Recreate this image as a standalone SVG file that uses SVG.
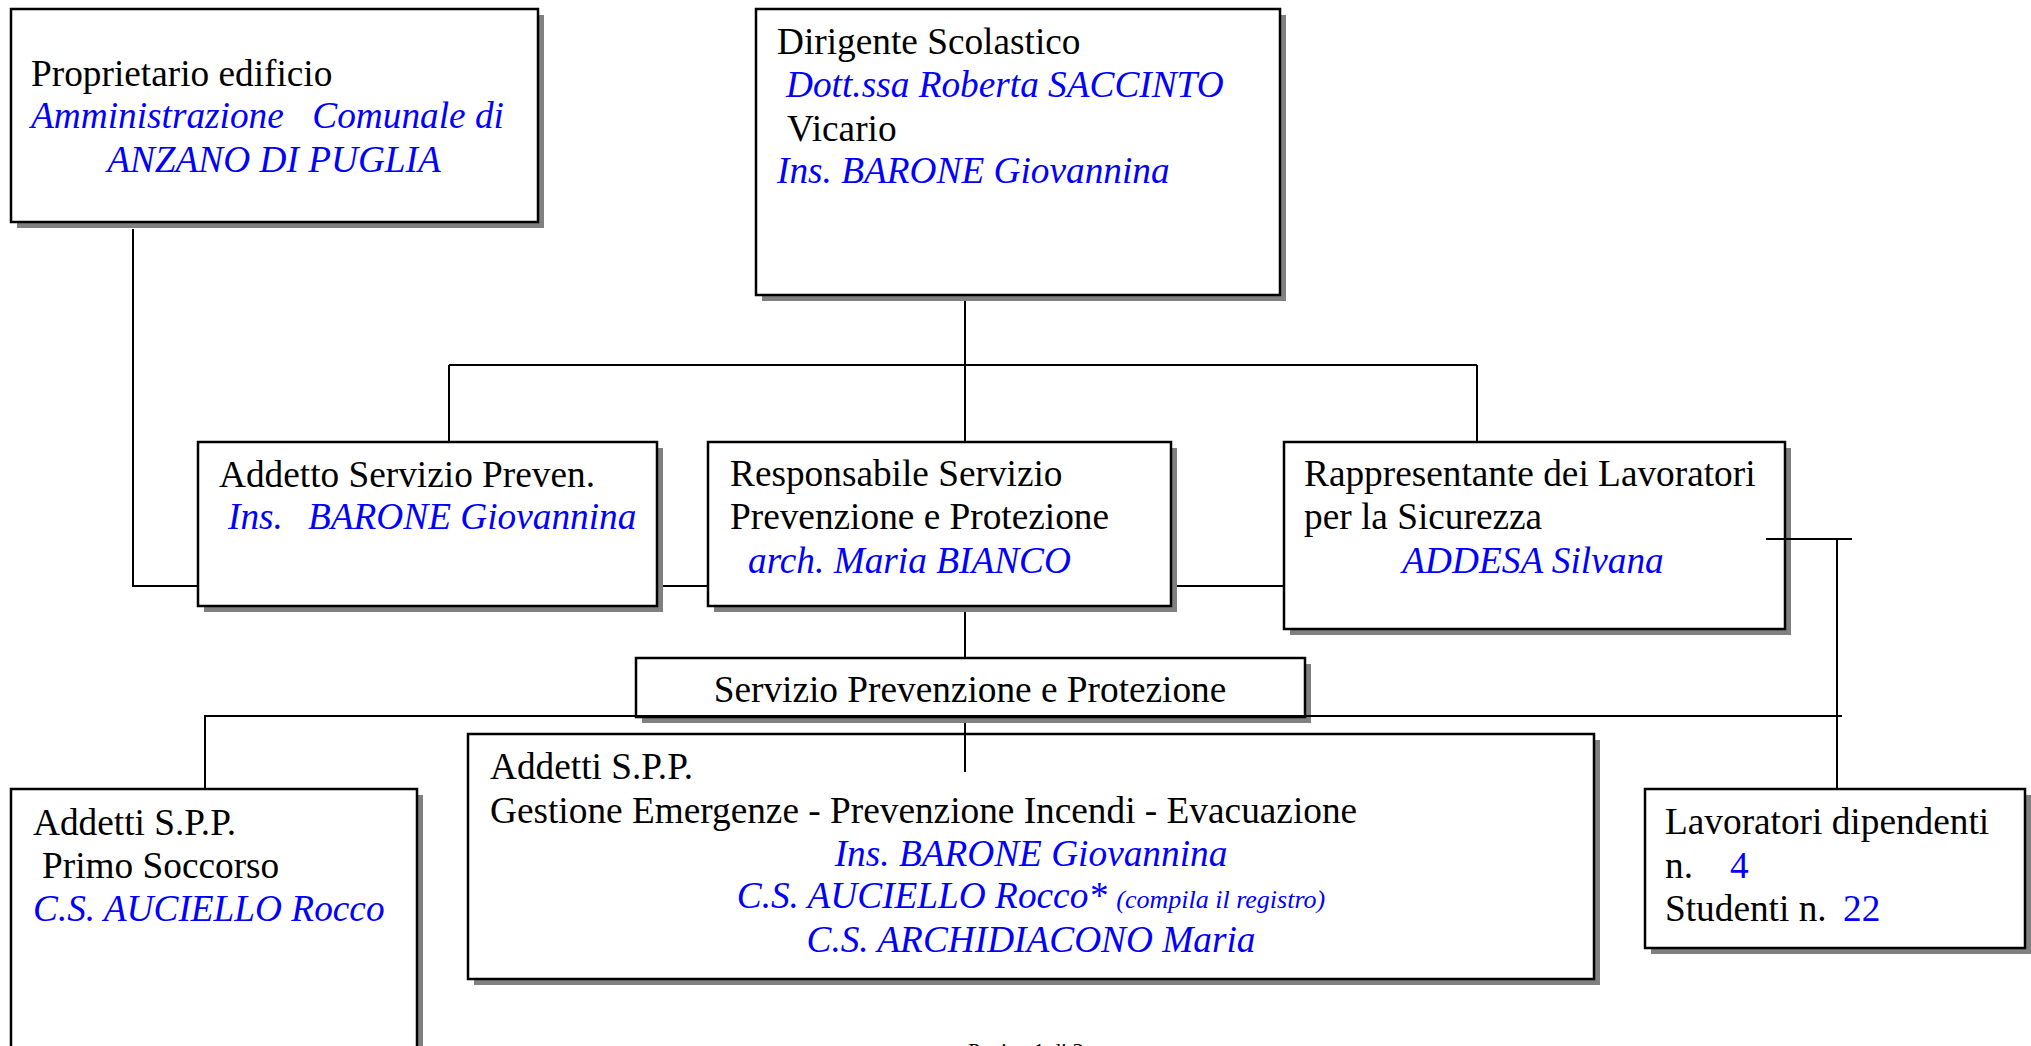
<svg xmlns="http://www.w3.org/2000/svg" width="2031" height="1046" viewBox="0 0 2031 1046">
<style>
.sh{fill:#808080}
.bx{fill:#ffffff;stroke:#000000;stroke-width:2.5}
text{font-family:"Liberation Serif","Times New Roman",serif;font-size:37.3px;fill:#000000}
.b{fill:#0000ff;font-style:italic}
.bn{fill:#0000ff}
.sm{font-size:26px}
.c{text-anchor:middle}
.e{text-anchor:end}
.ln{fill:none;stroke:#000000;stroke-width:2}
</style>
<rect width="2031" height="1046" fill="#ffffff"/>
<g id="proprietario">
<rect class="sh" x="17" y="15" width="527" height="213"/>
<rect class="bx" x="11" y="9" width="527" height="213"/>
<text x="31" y="86">Proprietario edificio</text>
<text class="b" x="31" y="128">Amministrazione</text>
<text class="b e" x="504" y="128">Comunale di</text>
<text class="b c" x="274" y="172">ANZANO DI PUGLIA</text>
</g>
<g id="dirigente">
<rect class="sh" x="762" y="15" width="524" height="286"/>
<rect class="bx" x="756" y="9" width="524" height="286"/>
<text x="777" y="54">Dirigente Scolastico</text>
<text class="b" x="786" y="97">Dott.ssa Roberta SACCINTO</text>
<text x="787" y="141">Vicario</text>
<text class="b" x="777" y="183">Ins. BARONE Giovannina</text>
</g>
<g id="addetto">
<rect class="sh" x="204" y="448" width="459" height="164"/>
<rect class="bx" x="198" y="442" width="459" height="164"/>
<text x="219" y="487">Addetto Servizio Preven.</text>
<text class="b" x="228" y="529">Ins.</text>
<text class="b" x="308" y="529">BARONE Giovannina</text>
</g>
<g id="responsabile">
<rect class="sh" x="714" y="448" width="463" height="164"/>
<rect class="bx" x="708" y="442" width="463" height="164"/>
<text x="730" y="486">Responsabile Servizio</text>
<text x="730" y="529">Prevenzione e Protezione</text>
<text class="b" x="748" y="573">arch. Maria BIANCO</text>
</g>
<g id="rappresentante">
<rect class="sh" x="1290" y="448" width="501" height="187"/>
<rect class="bx" x="1284" y="442" width="501" height="187"/>
<text x="1304" y="486">Rappresentante dei Lavoratori</text>
<text x="1304" y="529">per la Sicurezza</text>
<text class="b c" x="1533" y="573">ADDESA Silvana</text>
</g>
<g id="servizio">
<rect class="sh" x="642" y="664" width="669" height="59"/>
<rect class="bx" x="636" y="658" width="669" height="59"/>
<text class="c" x="970" y="702">Servizio Prevenzione e Protezione</text>
</g>
<g id="primo-soccorso">
<rect class="sh" x="17" y="795" width="406" height="300"/>
<rect class="bx" x="11" y="789" width="406" height="300"/>
<text x="33" y="835">Addetti S.P.P.</text>
<text x="42" y="878">Primo Soccorso</text>
<text class="b" x="33" y="921">C.S. AUCIELLO Rocco</text>
</g>
<g id="emergenze">
<rect class="sh" x="474" y="740" width="1126" height="245"/>
<rect class="bx" x="468" y="734" width="1126" height="245"/>
<text x="490" y="779">Addetti S.P.P.</text>
<text x="490" y="823">Gestione Emergenze - Prevenzione Incendi - Evacuazione</text>
<text class="b c" x="1031" y="866">Ins. BARONE Giovannina</text>
<text class="b c" x="1031" y="908">C.S. AUCIELLO Rocco* <tspan class="sm">(compila il registro)</tspan></text>
<text class="b c" x="1031" y="952">C.S. ARCHIDIACONO Maria</text>
</g>
<g id="lavoratori">
<rect class="sh" x="1651" y="795" width="380" height="159"/>
<rect class="bx" x="1645" y="789" width="380" height="159"/>
<text x="1665" y="834">Lavoratori dipendenti</text>
<text x="1665" y="878">n.</text>
<text class="bn" x="1730" y="878">4</text>
<text x="1665" y="921">Studenti n.</text>
<text class="bn" x="1843" y="921">22</text>
</g>
<g id="connectors">
<path class="ln" d="M133,229 V586 H198"/>
<path class="ln" d="M663,586 H708"/>
<path class="ln" d="M1177,586 H1284"/>
<path class="ln" d="M965,301 V365"/>
<path class="ln" d="M449,365 H1477"/>
<path class="ln" d="M449,365 V442"/>
<path class="ln" d="M965,365 V442"/>
<path class="ln" d="M1477,365 V442"/>
<path class="ln" d="M965,612 V658"/>
<path class="ln" d="M205,789 V716 H1842"/>
<path class="ln" d="M965,723 V772"/>
<path class="ln" d="M1766,539 H1852"/>
<path class="ln" d="M1837,539 V789"/>
</g>
<g id="footer">
<text x="968" y="1058" style="font-size:22px">Pagina 1 di 3</text>
</g>
</svg>
